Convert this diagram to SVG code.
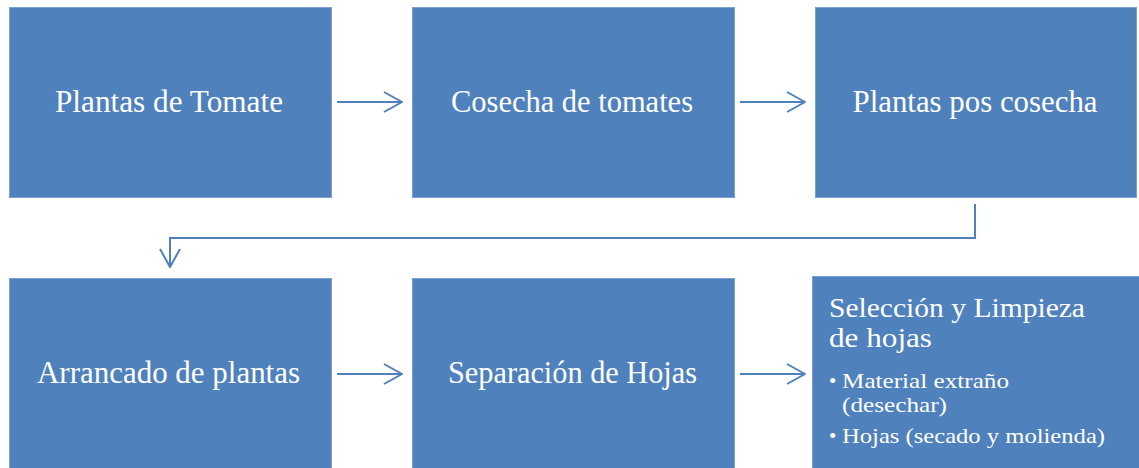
<svg xmlns="http://www.w3.org/2000/svg" width="1139" height="468" viewBox="0 0 1139 468">
<defs>
<style>
.box{fill:#4F81BD;stroke:#7B9FCE;stroke-width:1}
.t{font-family:"Liberation Serif","DejaVu Serif",serif;fill:#fff;font-size:31px}
.tc{text-anchor:middle}
.s{font-size:28px}
.b{font-size:21px}
.c{fill:none;stroke:#4F81BD;stroke-width:2}
</style>
<marker id="ah" viewBox="0 0 20 22" refX="19" refY="11" markerWidth="20" markerHeight="22" markerUnits="userSpaceOnUse" orient="auto">
<path d="M1,1 L19,11 L1,21" fill="none" stroke="#4F81BD" stroke-width="2"/>
</marker>
</defs>
<rect width="1139" height="468" fill="#fff"/>
<g id="n1"><rect class="box" x="9.5" y="7.5" width="322" height="190"/><text class="t tc" x="169" y="112" textLength="228" lengthAdjust="spacingAndGlyphs">Plantas de Tomate</text></g>
<g id="n2"><rect class="box" x="412.5" y="7.5" width="322" height="190"/><text class="t tc" x="572" y="112" textLength="242" lengthAdjust="spacingAndGlyphs">Cosecha de tomates</text></g>
<g id="n3"><rect class="box" x="815.5" y="7.5" width="321" height="190"/><text class="t tc" x="975" y="112" textLength="245" lengthAdjust="spacingAndGlyphs">Plantas pos cosecha</text></g>
<g id="n4"><rect class="box" x="9.5" y="278.5" width="322" height="191"/><text class="t tc" x="168.5" y="383" textLength="263" lengthAdjust="spacingAndGlyphs">Arrancado de plantas</text></g>
<g id="n5"><rect class="box" x="412.5" y="278.5" width="322" height="191"/><text class="t tc" x="572.5" y="383" textLength="249" lengthAdjust="spacingAndGlyphs">Separación de Hojas</text></g>
<g id="n6"><rect class="box" x="812.5" y="276.5" width="328" height="193"/>
<text class="t s" x="829" y="317" textLength="256" lengthAdjust="spacingAndGlyphs">Selección y Limpieza</text>
<text class="t s" x="829" y="347" textLength="103" lengthAdjust="spacingAndGlyphs">de hojas</text>
<text class="t b" x="829" y="388">•</text><text class="t b" x="842" y="388" textLength="167" lengthAdjust="spacingAndGlyphs">Material extraño</text>
<text class="t b" x="842" y="412" textLength="105" lengthAdjust="spacingAndGlyphs">(desechar)</text>
<text class="t b" x="829" y="443">•</text><text class="t b" x="842" y="443" textLength="263" lengthAdjust="spacingAndGlyphs">Hojas (secado y molienda)</text>
</g>
<g id="connectors">
<path class="c" d="M337,102 H402" marker-end="url(#ah)"/>
<path class="c" d="M740,102 H805" marker-end="url(#ah)"/>
<path class="c" d="M975,204 V238 H170 V267" marker-end="url(#ah)"/>
<path class="c" d="M337,374 H402" marker-end="url(#ah)"/>
<path class="c" d="M740,374 H805" marker-end="url(#ah)"/>
</g>
</svg>
